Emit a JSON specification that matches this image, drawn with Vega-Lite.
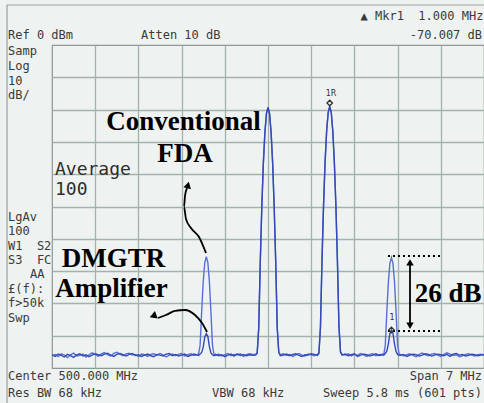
{
 "$schema": "https://vega.github.io/schema/vega-lite/v6.json",
 "width": 432,
 "height": 323,
 "autosize": {"type": "none"},
 "padding": {"left": 52, "top": 45, "right": 0, "bottom": 35},
 "background": "#eef2f0",
 "config": {
  "view": {"stroke": "#8d9893", "strokeWidth": 1.2, "fill": "#eef2f0"},
  "axis": {"labels": false, "ticks": false, "domain": false, "title": null, "grid": true, "gridColor": "#a3b2aa", "gridWidth": 1.3, "gridOpacity": 1}
 },
 "datasets": {
  "trace": [
   {"f":496.5,"a":-96.2,"b":-95.9},{"f":496.55,"a":-95.8,"b":-96.4},{"f":496.6,"a":-96.5,"b":-95.7},{"f":496.65,"a":-95.6,"b":-96.1},{"f":496.7,"a":-96.0,"b":-96.6},
   {"f":496.75,"a":-96.8,"b":-95.8},{"f":496.8,"a":-95.9,"b":-96.2},{"f":496.85,"a":-95.4,"b":-96.7},{"f":496.9,"a":-96.3,"b":-95.9},{"f":496.95,"a":-96.1,"b":-95.6},
   {"f":497.0,"a":-95.7,"b":-96.3},{"f":497.05,"a":-96.6,"b":-95.9},{"f":497.1,"a":-95.9,"b":-96.5},{"f":497.15,"a":-95.3,"b":-96.0},{"f":497.2,"a":-95.8,"b":-95.6},
   {"f":497.25,"a":-96.4,"b":-95.9},{"f":497.3,"a":-95.6,"b":-96.2},{"f":497.35,"a":-95.2,"b":-95.7},{"f":497.4,"a":-95.9,"b":-95.4},{"f":497.45,"a":-96.3,"b":-96.0},
   {"f":497.5,"a":-95.5,"b":-96.4},{"f":497.55,"a":-95.1,"b":-95.8},{"f":497.6,"a":-95.7,"b":-95.5},{"f":497.65,"a":-96.2,"b":-95.9},{"f":497.7,"a":-95.6,"b":-96.3},
   {"f":497.75,"a":-95.4,"b":-95.8},{"f":497.8,"a":-96.0,"b":-95.5},{"f":497.85,"a":-95.8,"b":-96.1},{"f":497.9,"a":-96.5,"b":-95.9},{"f":497.95,"a":-95.7,"b":-96.4},
   {"f":498.0,"a":-95.9,"b":-96.0},{"f":498.05,"a":-96.4,"b":-95.7},{"f":498.1,"a":-95.8,"b":-96.2},{"f":498.15,"a":-95.6,"b":-96.5},{"f":498.2,"a":-96.1,"b":-95.8},
   {"f":498.25,"a":-95.5,"b":-96.0},{"f":498.3,"a":-95.9,"b":-96.3},{"f":498.35,"a":-96.6,"b":-95.7},{"f":498.4,"a":-96.0,"b":-95.5},{"f":498.45,"a":-95.7,"b":-96.2},
   {"f":498.5,"a":-96.2,"b":-95.8},{"f":498.55,"a":-95.8,"b":-96.3},{"f":498.6,"a":-95.5,"b":-96.0},{"f":498.65,"a":-96.3,"b":-95.7},{"f":498.7,"a":-95.9,"b":-96.4},
   {"f":498.75,"a":-95.6,"b":-96.1},{"f":498.8,"a":-96.1,"b":-95.7},{"f":498.85,"a":-95.8,"b":-96.0},
   {"f":498.875,"a":-95.6,"b":-96.1},{"f":498.9,"a":-93.0,"b":-95.7},{"f":498.925,"a":-82.6,"b":-95.2},{"f":498.95,"a":-73.3,"b":-93.6},{"f":498.975,"a":-67.5,"b":-90.4},
   {"f":499.0,"a":-65.5,"b":-89.4},{"f":499.025,"a":-67.3,"b":-90.2},{"f":499.05,"a":-73.1,"b":-93.4},{"f":499.075,"a":-82.5,"b":-95.3},{"f":499.1,"a":-92.9,"b":-95.9},
   {"f":499.125,"a":-95.8,"b":-96.2},
   {"f":499.15,"a":-96.1,"b":-95.8},{"f":499.2,"a":-95.7,"b":-96.2},{"f":499.25,"a":-96.3,"b":-95.9},{"f":499.3,"a":-95.9,"b":-96.5},{"f":499.35,"a":-95.5,"b":-96.0},
   {"f":499.4,"a":-96.2,"b":-95.7},{"f":499.45,"a":-95.8,"b":-96.3},{"f":499.5,"a":-96.0,"b":-95.6},{"f":499.55,"a":-95.6,"b":-96.1},{"f":499.6,"a":-96.4,"b":-95.8},
   {"f":499.65,"a":-95.9,"b":-96.2},{"f":499.7,"a":-95.6,"b":-95.9},{"f":499.75,"a":-95.8,"b":-96.1},
   {"f":499.8,"a":-95.7,"b":-96.0},{"f":499.825,"a":-95.2,"b":-95.4},{"f":499.85,"a":-87.6,"b":-87.5},{"f":499.875,"a":-67.1,"b":-67.1},{"f":499.9,"a":-49.9,"b":-49.9},
   {"f":499.925,"a":-36.5,"b":-36.5},{"f":499.95,"a":-27.0,"b":-27.0},{"f":499.975,"a":-21.2,"b":-21.2},{"f":500.0,"a":-19.3,"b":-19.3},{"f":500.025,"a":-21.2,"b":-21.2},
   {"f":500.05,"a":-27.0,"b":-27.0},{"f":500.075,"a":-36.5,"b":-36.5},{"f":500.1,"a":-49.9,"b":-49.9},{"f":500.125,"a":-67.1,"b":-67.1},{"f":500.15,"a":-87.6,"b":-87.7},
   {"f":500.175,"a":-95.3,"b":-95.1},{"f":500.2,"a":-95.9,"b":-96.2},
   {"f":500.25,"a":-95.6,"b":-96.0},{"f":500.3,"a":-96.1,"b":-95.7},{"f":500.35,"a":-95.8,"b":-96.2},{"f":500.4,"a":-96.4,"b":-95.8},{"f":500.45,"a":-95.9,"b":-95.6},
   {"f":500.5,"a":-95.5,"b":-96.1},{"f":500.55,"a":-96.0,"b":-96.4},{"f":500.6,"a":-96.3,"b":-95.9},{"f":500.65,"a":-95.7,"b":-96.0},{"f":500.7,"a":-95.9,"b":-95.6},
   {"f":500.75,"a":-96.2,"b":-95.8},
   {"f":500.8,"a":-95.8,"b":-96.1},{"f":500.825,"a":-95.3,"b":-95.5},{"f":500.85,"a":-87.3,"b":-87.4},{"f":500.875,"a":-66.8,"b":-66.8},{"f":500.9,"a":-49.6,"b":-49.6},
   {"f":500.925,"a":-36.2,"b":-36.2},{"f":500.95,"a":-26.7,"b":-26.7},{"f":500.975,"a":-20.9,"b":-20.9},{"f":501.0,"a":-19.0,"b":-19.0},{"f":501.025,"a":-20.9,"b":-20.9},
   {"f":501.05,"a":-26.7,"b":-26.7},{"f":501.075,"a":-36.2,"b":-36.2},{"f":501.1,"a":-49.6,"b":-49.6},{"f":501.125,"a":-66.8,"b":-66.8},{"f":501.15,"a":-87.4,"b":-87.2},
   {"f":501.175,"a":-95.2,"b":-95.0},{"f":501.2,"a":-95.7,"b":-96.0},
   {"f":501.25,"a":-96.0,"b":-95.7},{"f":501.3,"a":-95.6,"b":-96.2},{"f":501.35,"a":-96.3,"b":-95.9},{"f":501.4,"a":-95.8,"b":-95.6},{"f":501.45,"a":-96.1,"b":-96.4},
   {"f":501.5,"a":-95.5,"b":-96.0},{"f":501.55,"a":-95.9,"b":-95.7},{"f":501.6,"a":-96.4,"b":-95.9},{"f":501.65,"a":-95.8,"b":-96.3},{"f":501.7,"a":-95.6,"b":-96.0},
   {"f":501.75,"a":-96.2,"b":-95.6},{"f":501.8,"a":-95.9,"b":-96.1},{"f":501.85,"a":-95.7,"b":-95.9},
   {"f":501.875,"a":-95.9,"b":-96.0},{"f":501.9,"a":-93.1,"b":-95.5},{"f":501.925,"a":-82.8,"b":-94.8},{"f":501.95,"a":-73.5,"b":-92.6},{"f":501.975,"a":-67.7,"b":-89.4},
   {"f":502.0,"a":-65.8,"b":-88.3},{"f":502.025,"a":-67.6,"b":-89.2},{"f":502.05,"a":-73.4,"b":-92.5},{"f":502.075,"a":-82.7,"b":-94.9},{"f":502.1,"a":-93.0,"b":-95.8},
   {"f":502.125,"a":-95.7,"b":-96.1},
   {"f":502.15,"a":-95.8,"b":-96.1},{"f":502.2,"a":-96.3,"b":-95.8},{"f":502.25,"a":-95.9,"b":-96.4},{"f":502.3,"a":-95.6,"b":-96.0},{"f":502.35,"a":-96.1,"b":-95.7},
   {"f":502.4,"a":-96.5,"b":-95.9},{"f":502.45,"a":-95.8,"b":-96.3},{"f":502.5,"a":-95.4,"b":-96.0},{"f":502.55,"a":-95.9,"b":-95.6},{"f":502.6,"a":-96.2,"b":-95.8},
   {"f":502.65,"a":-95.7,"b":-96.3},{"f":502.7,"a":-95.5,"b":-96.0},{"f":502.75,"a":-96.0,"b":-95.7},{"f":502.8,"a":-96.4,"b":-95.9},{"f":502.85,"a":-95.8,"b":-96.2},
   {"f":502.9,"a":-95.3,"b":-95.8},{"f":502.95,"a":-95.7,"b":-96.4},{"f":503.0,"a":-96.1,"b":-95.7},{"f":503.05,"a":-95.9,"b":-95.5},{"f":503.1,"a":-96.5,"b":-96.0},
   {"f":503.15,"a":-96.2,"b":-95.8},{"f":503.2,"a":-95.8,"b":-96.3},{"f":503.25,"a":-95.6,"b":-96.1},{"f":503.3,"a":-96.0,"b":-95.7},{"f":503.35,"a":-96.3,"b":-95.9},
   {"f":503.4,"a":-95.9,"b":-96.2},{"f":503.45,"a":-95.7,"b":-96.0},{"f":503.5,"a":-96.1,"b":-95.8}
  ],
  "frame": [{"f":495.771,"f2":504.5,"d":12.38,"d2":-125}],
  "txtLeft": [
   {"f":495.787,"d":3.1,"t":"Ref 0 dBm"},
   {"f":497.942,"d":3.1,"t":"Atten 10 dB"},
   {"f":495.787,"d":-1.86,"t":"Samp"},
   {"f":495.787,"d":-6.5,"t":"Log"},
   {"f":495.787,"d":-11.15,"t":"10"},
   {"f":495.787,"d":-15.48,"t":"dB/"},
   {"f":495.787,"d":-53.25,"t":"LgAv"},
   {"f":495.787,"d":-57.59,"t":"100"},
   {"f":495.787,"d":-62.23,"t":"W1\u00a0\u00a0S2"},
   {"f":495.787,"d":-66.56,"t":"S3\u00a0\u00a0FC"},
   {"f":496.144,"d":-70.9,"t":"AA"},
   {"f":495.787,"d":-75.54,"t":"£(f):"},
   {"f":495.787,"d":-79.88,"t":"f>50k"},
   {"f":495.787,"d":-84.52,"t":"Swp"},
   {"f":495.787,"d":-102.48,"t":"Center 500.000 MHz"},
   {"f":495.787,"d":-107.74,"t":"Res BW 68 kHz"},
   {"f":499.093,"d":-107.74,"t":"VBW 68 kHz"}
  ],
  "txtRight": [
   {"f":503.49,"d":8.98,"t":"▲ Mkr1\u00a0\u00a01.000 MHz"},
   {"f":503.468,"d":3.1,"t":"-70.007 dB"},
   {"f":503.468,"d":-102.48,"t":"Span 7 MHz"},
   {"f":503.468,"d":-107.74,"t":"Sweep 5.8 ms (601 pts)"}
  ],
  "txtAvg": [
   {"f":496.549,"d":-38.7,"t":"Average"},
   {"f":496.549,"d":-44.89,"t":"100"}
  ],
  "txtBold": [
   {"f":498.631,"d":-26.32,"t":"Conventional"},
   {"f":498.655,"d":-36.22,"t":"FDA"},
   {"f":497.497,"d":-68.73,"t":"DMGTR"},
   {"f":497.464,"d":-78.02,"t":"Amplifier"},
   {"f":502.917,"d":-79.57,"t":"26 dB"}
  ],
  "arrows": [
   {"id":"conv","i":0,"f":498.995,"d":-64.4},
   {"id":"conv","i":1,"f":498.882,"d":-59.44},
   {"id":"conv","i":2,"f":498.752,"d":-56.66},
   {"id":"conv","i":3,"f":498.671,"d":-53.87},
   {"id":"conv","i":4,"f":498.639,"d":-50.15},
   {"id":"conv","i":5,"f":498.655,"d":-46.75},
   {"id":"conv","i":6,"f":498.688,"d":-44.27},
   {"id":"dmg","i":0,"f":499.012,"d":-88.85},
   {"id":"dmg","i":1,"f":498.931,"d":-86.07},
   {"id":"dmg","i":2,"f":498.817,"d":-83.59},
   {"id":"dmg","i":3,"f":498.655,"d":-82.04},
   {"id":"dmg","i":4,"f":498.493,"d":-82.35},
   {"id":"dmg","i":5,"f":498.347,"d":-83.59},
   {"id":"dmg","i":6,"f":498.218,"d":-84.52},
   {"id":"span","i":0,"f":502.301,"d":-67.0},
   {"id":"span","i":1,"f":502.301,"d":-87.0}
  ],
  "dots": [
   {"id":"top","f":501.944,"d":-65.33},
   {"id":"top","f":502.803,"d":-65.33},
   {"id":"bot","f":501.944,"d":-88.54},
   {"id":"bot","f":502.803,"d":-88.54}
  ],
  "mkr": [
   {"f":501.0,"d":-17.96},
   {"f":502.0,"d":-88.24}
  ],
  "mkrLbl": [
   {"f":501.021,"d":-15.17,"t":"1R"},
   {"f":502.009,"d":-84.52,"t":"1"}
  ]
 },
 "encoding": {
  "x": {"field": "f", "type": "quantitative", "scale": {"domain": [496.5, 503.5], "nice": false, "zero": false}, "axis": {"values": [497.2, 497.9, 498.6, 499.3, 500.0, 500.7, 501.4, 502.1, 502.8]}},
  "y": {"field": "d", "type": "quantitative", "scale": {"domain": [-100, 0], "nice": false, "zero": false}, "axis": {"values": [-90, -80, -70, -60, -50, -40, -30, -20, -10]}}
 },
 "layer": [
  {
   "data": {"name": "frame"},
   "mark": {"type": "rect", "fill": null, "fillOpacity": 0, "stroke": "#9aa19d", "strokeWidth": 1.2, "clip": false},
   "encoding": {"x2": {"field": "f2"}, "y2": {"field": "d2"}}
  },
  {
   "data": {"name": "trace"},
   "transform": [{"fold": ["a", "b"], "as": ["trace", "d"]}],
   "mark": {"type": "line", "strokeWidth": 1.4, "clip": true},
   "encoding": {
    "color": {"field": "trace", "type": "nominal", "scale": {"domain": ["a", "b"], "range": ["#5870d4", "#3649b8"]}, "legend": null},
    "order": {"field": "f", "type": "quantitative"}
   }
  },
  {
   "data": {"name": "txtLeft"},
   "mark": {"type": "text", "align": "left", "baseline": "middle", "font": "DejaVu Sans Mono", "fontSize": 12, "fill": "#3a3a3a"},
   "encoding": {"text": {"field": "t"}}
  },
  {
   "data": {"name": "txtRight"},
   "mark": {"type": "text", "align": "right", "baseline": "middle", "font": "DejaVu Sans Mono", "fontSize": 12, "fill": "#3a3a3a"},
   "encoding": {"text": {"field": "t"}}
  },
  {
   "data": {"name": "txtAvg"},
   "mark": {"type": "text", "align": "left", "baseline": "middle", "font": "DejaVu Sans Mono", "fontSize": 18, "fill": "#2e2e2e"},
   "encoding": {"text": {"field": "t"}}
  },
  {
   "data": {"name": "txtBold"},
   "mark": {"type": "text", "align": "center", "baseline": "alphabetic", "font": "Liberation Serif", "fontWeight": "bold", "fontSize": 27, "fill": "#000000"},
   "encoding": {"text": {"field": "t"}}
  },
  {
   "data": {"name": "arrows"},
   "mark": {"type": "line", "color": "#000000", "strokeWidth": 1.8, "interpolate": "monotone"},
   "encoding": {"detail": {"field": "id"}, "order": {"field": "i", "type": "quantitative"}}
  },
  {
   "data": {"values": [{"f": 498.704, "d": -43.34}]},
   "mark": {"type": "point", "shape": "triangle-up", "angle": 15, "filled": true, "color": "#000000", "size": 60, "opacity": 1}
  },
  {
   "data": {"values": [{"f": 498.137, "d": -83.9}]},
   "mark": {"type": "point", "shape": "triangle-left", "angle": -20, "filled": true, "color": "#000000", "size": 65, "opacity": 1}
  },
  {
   "data": {"values": [{"f": 502.301, "d": -67.3}]},
   "mark": {"type": "point", "shape": "triangle-up", "filled": true, "color": "#000000", "size": 55, "opacity": 1}
  },
  {
   "data": {"values": [{"f": 502.301, "d": -86.9}]},
   "mark": {"type": "point", "shape": "triangle-down", "filled": true, "color": "#000000", "size": 55, "opacity": 1}
  },
  {
   "data": {"name": "dots"},
   "mark": {"type": "line", "color": "#000000", "strokeWidth": 2, "strokeDash": [2, 3]},
   "encoding": {"detail": {"field": "id"}}
  },
  {
   "data": {"name": "mkr"},
   "mark": {"type": "point", "shape": "diamond", "filled": false, "stroke": "#333333", "strokeWidth": 1.3, "size": 30, "opacity": 1}
  },
  {
   "data": {"name": "mkrLbl"},
   "mark": {"type": "text", "align": "center", "baseline": "middle", "font": "DejaVu Sans", "fontSize": 8, "fill": "#333333"},
   "encoding": {"text": {"field": "t"}}
  }
 ]
}
